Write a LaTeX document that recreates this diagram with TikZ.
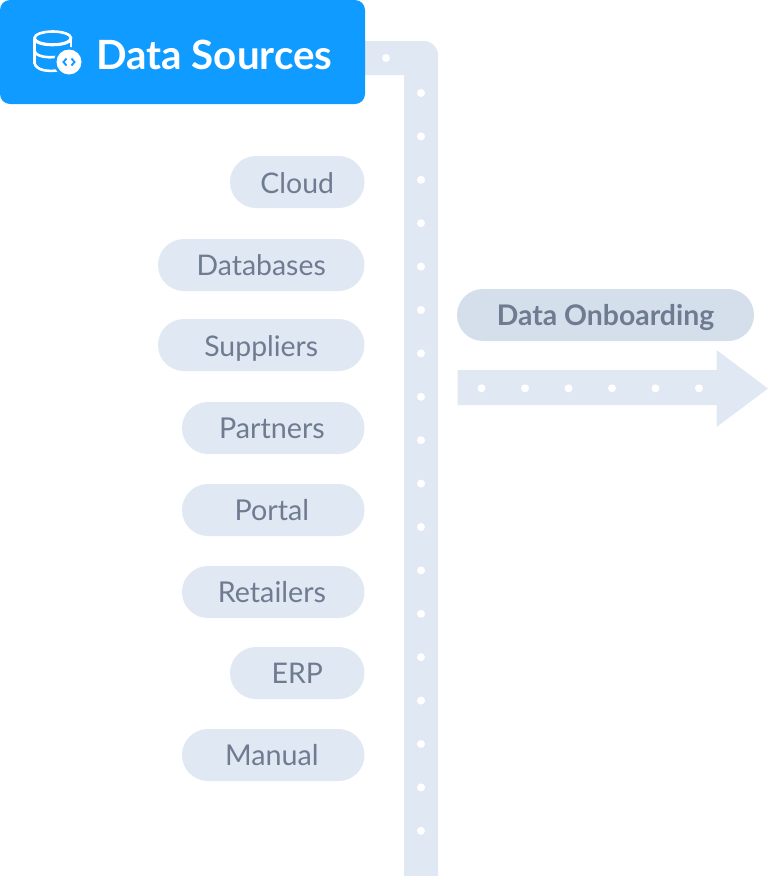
\documentclass[tikz,border=0pt]{standalone}
\usepackage{fontspec}
\setmainfont{Lato}
\definecolor{pillc}{HTML}{E0E8F3}
\definecolor{pillb}{HTML}{D5DFEC}
\definecolor{txtc}{HTML}{6F7B90}
\definecolor{blue1}{HTML}{0F9BFF}
\tikzset{
 pill/.style={fill=pillc,text=txtc,rounded corners=25.9pt,minimum height=52pt,inner sep=0pt,text height=21pt,text depth=0pt,font=\fontsize{28.4}{32}\selectfont},
 pilllow/.style={pill,text height=22pt},
 pillleft/.style={pill,font=\fontsize{28.7}{32}\selectfont,execute at begin node=\hspace*{-2.6pt}},
 pilldark/.style={pill,fill=pillb,font=\fontsize{28.4}{32}\selectfont\bfseries},
 header/.style={fill=blue1,text=white,rounded corners=10pt,inner sep=0pt,minimum width=365pt,minimum height=104pt},
 pipeshape/.style={fill=pillc,draw=none},
 dotm/.style={fill=white,draw=none},
 iconl/.style={draw=white,line width=2.6pt,fill=none}
}
\begin{document}
\begin{tikzpicture}[x=1pt,y=-1pt]
\useasboundingbox (0,0) rectangle (770,876);
% pipe
\fill[pipeshape] (364,41) [rounded corners=14pt] -- (438,41) [sharp corners] -- (438,876) -- (404,876) -- (404,75) -- (364,75) -- cycle;
\fill[dotm] (386,58) circle[radius=4];
\foreach \i in {0,...,17} \fill[dotm] (421,{93+\i*43.4}) circle[radius=4];
% arrow
\fill[pipeshape] (457.5,370) -- (716.5,370) -- (716.5,350) -- (768,388.5) -- (716.5,427) -- (716.5,405) -- (457.5,405) -- cycle;
\foreach \x in {481.5,525,568.5,612,655.5,699} \fill[dotm] (\x,388.3) circle[radius=4];
% header
\node[header] (hdr) at (182.5,52) {};
\node[text=white,anchor=west,inner sep=0pt,font=\fontsize{40.3}{44}\selectfont\bfseries] (hdrtext) at (96,54.5) {Data Sources};
% icon
\draw[iconl] (34.5,39) -- (34.5,64);
\draw[iconl] (71,39) -- (71,50);
\draw[iconl] (52.75,38) ellipse[x radius=18.25,y radius=6.5];
\draw[iconl] (34.5,39) .. controls (36,47) and (69,47) .. (71,39);
\draw[iconl] (34.5,51) .. controls (36,59) and (60,59) .. (69,53);
\draw[iconl] (34.5,63) .. controls (36,71) and (50,72) .. (60,70);
\fill[blue1] (69,62) circle[radius=15];
\fill[white] (69,62) circle[radius=12.5];
\draw[blue1,line width=1.9pt] (66.5,58.5) -- (63.5,62) -- (66.5,65.5);
\draw[blue1,line width=1.9pt] (71.5,58.5) -- (74.5,62) -- (71.5,65.5);
% pills
\node[pilllow,minimum width=134.5pt] (cloud) at (297.25,182) {Cloud};
\node[pill,minimum width=206.5pt] (databases) at (261.25,265) {Databases};
\node[pilllow,minimum width=206.5pt] (suppliers) at (261.25,345) {Suppliers};
\node[pillleft,minimum width=182.5pt] (partners) at (273.25,428) {Partners};
\node[pillleft,minimum width=182.5pt] (portal) at (273.25,510) {Portal};
\node[pillleft,minimum width=182.5pt] (retailers) at (273.25,592) {Retailers};
\node[pill,minimum width=134.5pt] (erp) at (297.25,673) {ERP};
\node[pillleft,minimum width=182.5pt] (manual) at (273.25,755) {Manual};
\node[pilldark,minimum width=297pt] (onboard) at (605.5,315) {Data Onboarding};
\end{tikzpicture}
\end{document}
